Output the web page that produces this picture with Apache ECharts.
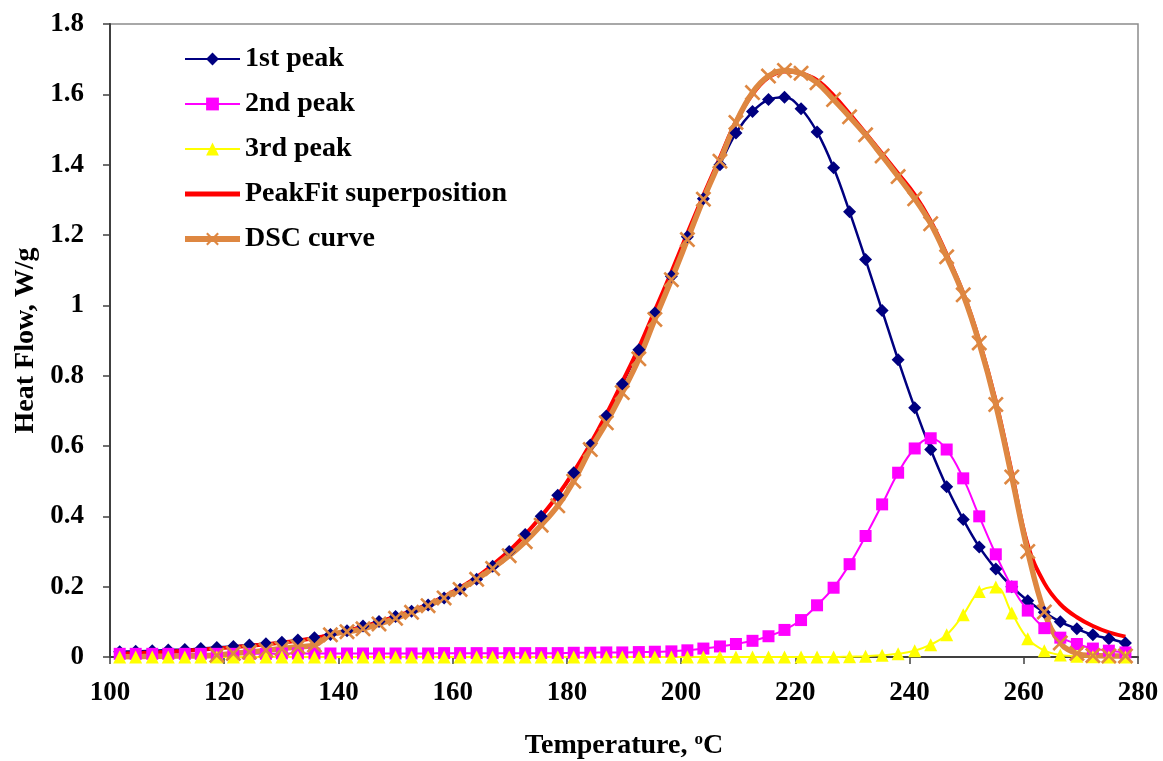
<!DOCTYPE html>
<html>
<head>
<meta charset="utf-8">
<script src="https://cdn.jsdelivr.net/npm/echarts@6/dist/echarts.min.js"></script>
<style>
html,body{margin:0;padding:0;background:#fff;}
#chart{width:1163px;height:761px;}
</style>
</head>
<body>
<div id="chart"></div>
<script>
// Temperature (°C) of each sampled point
const temps = [101.7,104.5,107.4,110.2,113.1,115.9,118.7,121.6,124.4,127.3,130.1,132.9,135.8,138.6,141.5,144.3,147.1,150.0,152.8,155.7,158.5,161.3,164.2,167.0,169.9,172.7,175.5,178.4,181.2,184.1,186.9,189.7,192.6,195.4,198.3,201.1,203.9,206.8,209.6,212.5,215.3,218.1,221.0,223.8,226.7,229.5,232.3,235.2,238.0,240.9,243.7,246.5,249.4,252.2,255.1,257.9,260.7,263.6,266.4,269.3,272.1,274.9,277.8];

const peak1 = [0.015,0.016,0.018,0.020,0.021,0.024,0.027,0.030,0.034,0.038,0.042,0.048,0.055,0.064,0.075,0.088,0.101,0.115,0.130,0.148,0.168,0.193,0.221,0.258,0.300,0.348,0.400,0.460,0.524,0.603,0.685,0.776,0.874,0.978,1.083,1.195,1.303,1.400,1.490,1.551,1.585,1.592,1.559,1.493,1.391,1.266,1.130,0.985,0.845,0.709,0.590,0.484,0.391,0.313,0.250,0.200,0.160,0.127,0.100,0.080,0.063,0.052,0.040];

const peak2 = [0.009,0.009,0.009,0.009,0.009,0.009,0.009,0.009,0.009,0.009,0.010,0.010,0.010,0.010,0.010,0.010,0.010,0.010,0.010,0.010,0.011,0.011,0.011,0.011,0.011,0.011,0.011,0.011,0.012,0.012,0.013,0.013,0.014,0.015,0.016,0.019,0.024,0.030,0.037,0.046,0.059,0.077,0.105,0.147,0.197,0.264,0.344,0.434,0.524,0.593,0.622,0.590,0.508,0.400,0.292,0.200,0.132,0.082,0.055,0.037,0.024,0.018,0.013];

const peak3 = [0,0,0,0,0,0,0,0,0,0,0,0,0,0,0,0,0,0,0,0,0,0,0,0,0,0,0,0,0,0,0,0,0,0,0,0,0,0,0,0,0,0,0,0,0,0.001,0.002,0.005,0.009,0.018,0.035,0.063,0.120,0.186,0.199,0.125,0.052,0.018,0.006,0.002,0.001,0,0];

const peakFit = [0.009,0.011,0.013,0.015,0.018,0.021,0.024,0.028,0.032,0.036,0.041,0.047,0.054,0.063,0.074,0.086,0.100,0.115,0.131,0.150,0.172,0.197,0.227,0.262,0.302,0.348,0.400,0.460,0.527,0.606,0.690,0.782,0.880,0.985,1.095,1.205,1.313,1.420,1.523,1.600,1.648,1.665,1.660,1.640,1.597,1.545,1.490,1.432,1.375,1.315,1.240,1.145,1.035,0.900,0.728,0.525,0.318,0.210,0.150,0.113,0.088,0.070,0.058];

const dsc = [0.001,0.001,0.002,0.002,0.003,0.003,0.005,0.010,0.014,0.019,0.024,0.029,0.034,0.063,0.072,0.080,0.094,0.110,0.127,0.146,0.168,0.192,0.221,0.252,0.288,0.328,0.375,0.430,0.500,0.590,0.666,0.752,0.848,0.960,1.073,1.187,1.302,1.410,1.520,1.605,1.652,1.668,1.660,1.633,1.585,1.536,1.485,1.425,1.366,1.303,1.232,1.138,1.030,0.893,0.718,0.512,0.300,0.128,0.040,0.010,0.004,0.003,0.003];

const xTicks = [100,120,140,160,180,200,220,240,260,280];
const yTicks = [0,0.2,0.4,0.6,0.8,1,1.2,1.4,1.6,1.8];
const seriesNames = ['1st peak','2nd peak','3rd peak','PeakFit superposition','DSC curve'];

const FONT = '"Liberation Serif","Times New Roman",serif';
const pairs = arr => arr.map((v, i) => [temps[i], v]);
const xMark = 'path://M0,1.4L1.4,0L6,4.6L10.6,0L12,1.4L7.4,6L12,10.6L10.6,12L6,7.4L1.4,12L0,10.6L4.6,6Z';

const legendData = seriesNames.map((n, i) => {
  if (i === 3) return {name: n, lineStyle: {width: 5},
    itemStyle: {color: 'rgba(0,0,0,0)', borderColor: 'rgba(0,0,0,0)', borderWidth: 0}};
  if (i === 4) return {name: n, lineStyle: {width: 6}};
  return {name: n};
});

const chart = echarts.init(document.getElementById('chart'), null, {renderer: 'canvas'});
chart.setOption({
  backgroundColor: '#ffffff',
  animation: false,
  grid: {left: 110, right: 25, top: 24, bottom: 104, outerBoundsMode: 'none', containLabel: false,
    show: true, borderColor: '#8c8c8c', borderWidth: 1.5, backgroundColor: 'transparent'},
  legend: {
    orient: 'vertical', left: 177, top: 40,
    itemWidth: 55, itemHeight: 16, itemGap: 17,
    textStyle: {fontFamily: FONT, fontSize: 28, fontWeight: 'bold', color: '#000', lineHeight: 27},
    data: legendData
  },
  xAxis: {
    type: 'value', min: xTicks[0], max: xTicks[xTicks.length - 1], interval: 20,
    axisLine: {lineStyle: {color: '#404040', width: 2}},
    axisTick: {length: 7, lineStyle: {color: '#404040', width: 1.5}},
    axisLabel: {margin: 23, fontFamily: FONT, fontSize: 27, fontWeight: 'bold', color: '#000'},
    splitLine: {show: false},
    name: 'Temperature, {s|o}C', nameLocation: 'middle', nameGap: 74,
    nameTextStyle: {fontFamily: FONT, fontSize: 28, fontWeight: 'bold', color: '#000',
      rich: {s: {fontFamily: FONT, fontSize: 17, fontWeight: 'bold', color: '#000', padding: [0, 0, 13, 0]}}}
  },
  yAxis: {
    type: 'value', min: yTicks[0], max: yTicks[yTicks.length - 1], interval: 0.2,
    axisLine: {show: true, lineStyle: {color: '#404040', width: 2}},
    axisTick: {show: true, length: 7, lineStyle: {color: '#404040', width: 1.5}},
    axisLabel: {margin: 26, fontFamily: FONT, fontSize: 27, fontWeight: 'bold', color: '#000'},
    splitLine: {show: false},
    name: 'Heat Flow, W/g', nameLocation: 'middle', nameGap: 70, nameRotate: 90,
    nameTextStyle: {fontFamily: FONT, fontSize: 28, fontWeight: 'bold', color: '#000'}
  },
  series: [
    {name: seriesNames[0], type: 'line', smooth: 0.4, data: pairs(peak1),
      symbol: 'diamond', symbolSize: 13, lineStyle: {color: '#000080', width: 2.5},
      itemStyle: {color: '#000080'}},
    {name: seriesNames[1], type: 'line', smooth: 0.4, data: pairs(peak2),
      symbol: 'rect', symbolSize: 12, lineStyle: {color: '#FF00FF', width: 2},
      itemStyle: {color: '#FF00FF'}},
    {name: seriesNames[2], type: 'line', smooth: 0.4, data: pairs(peak3),
      symbol: 'triangle', symbolSize: 13, lineStyle: {color: '#FFFF00', width: 2},
      itemStyle: {color: '#FFFF00'}},
    {name: seriesNames[3], type: 'line', smooth: 0.4, data: pairs(peakFit),
      symbol: 'circle', showSymbol: false, lineStyle: {color: '#FF0000', width: 4},
      itemStyle: {color: '#FF0000'}},
    {name: seriesNames[4], type: 'line', smooth: 0.4,
      data: pairs(dsc).map(p => p[0] < 117 ? {value: p, symbol: 'none'} : p),
      symbol: xMark, symbolSize: 16, lineStyle: {color: '#DE8741', width: 5.5},
      itemStyle: {color: '#DE8741'}}
  ]
});
</script>
</body>
</html>
